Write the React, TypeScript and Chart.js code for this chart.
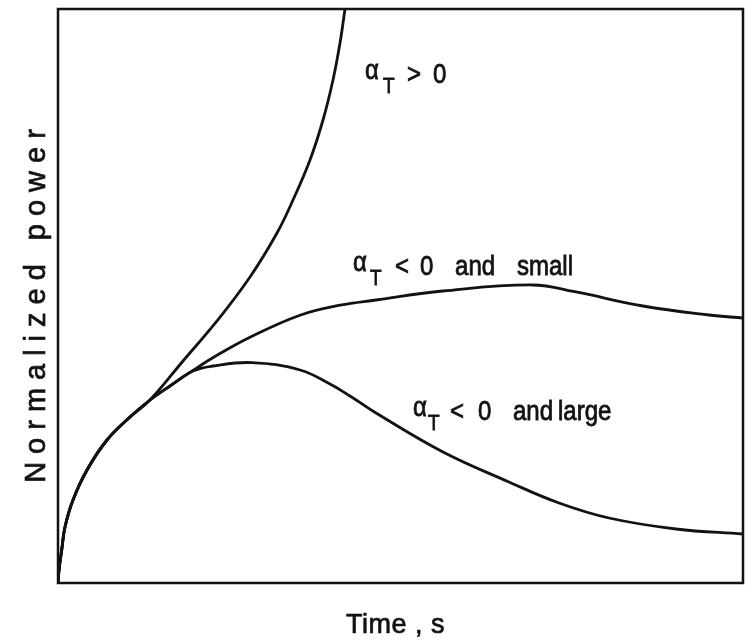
import React, { useEffect, useRef } from "react";
import { Chart, registerables } from "chart.js";

Chart.register(...registerables);

// Normalized power vs. time for three signs/magnitudes of the temperature coefficient.
// Time and power are in arbitrary units (0–100 on both axes).

// shared initial rise
const riseTime = [0, 0.146, 0.54, 1.022, 2.19, 4.234, 7.153, 10.511, 13.431];
const risePower = [0, 2.265, 5.749, 9.756, 14.46, 19.686, 24.913, 28.92, 31.882];

// α_T > 0 : power keeps growing
const positiveTime = [...riseTime, 18.248, 23.212, 28.029, 31.971, 34.307, 36.788, 38.686, 40.146, 41.168, 41.898];
const positivePower = [...risePower, 38.676, 45.645, 53.31, 60.976, 66.725, 73.693, 80.662, 87.631, 94.077, 100];

// α_T < 0 and small : power levels off
const smallTime = [...riseTime, 16.35, 19.708, 23.212, 28.029, 35.328, 41.168, 46.423, 56.204, 69.27, 75.62, 85.401, 95.036, 100];
const smallPower = [...risePower, 34.321, 37.038, 39.669, 42.822, 46.655, 48.397, 49.303, 50.871, 51.92, 50.697, 48.258, 46.69, 46.167];

// α_T < 0 and large : power peaks then falls
const largeTime = [...riseTime, 16.35, 19.708, 22.628, 28.3, 35.328, 39.708, 42.628, 46.423, 56.204, 65.839, 73.139, 80.438, 90.219, 100];
const largePower = [...risePower, 34.321, 36.934, 37.805, 38.4, 37.108, 34.669, 32.578, 29.617, 22.822, 17.596, 13.937, 11.324, 9.408, 8.537];

const INK = "#121212";
const FONT = "'Liberation Sans', Arial, sans-serif";

type Token = { text: string; dx: number; dy: number; size: number };
type CurveLabel = { at: [number, number]; tokens: Token[] };

const curveLabels: CurveLabel[] = [
  {
    at: [44.82, 87.11],
    tokens: [
      { text: "α", dx: 0, dy: -4, size: 24 },
      { text: "T", dx: 18, dy: 10, size: 19 },
      { text: ">", dx: 42, dy: 0, size: 24 },
      { text: "0", dx: 68, dy: 0, size: 24 },
    ],
  },
  {
    at: [43.07, 53.66],
    tokens: [
      { text: "α", dx: 0, dy: -4, size: 24 },
      { text: "T", dx: 17, dy: 10, size: 19 },
      { text: "<", dx: 42, dy: 0, size: 24 },
      { text: "0", dx: 67, dy: 0, size: 24 },
      { text: "and", dx: 102, dy: 0, size: 24 },
      { text: "small", dx: 164, dy: 0, size: 24 },
    ],
  },
  {
    at: [51.82, 28.4],
    tokens: [
      { text: "α", dx: 0, dy: -4, size: 24 },
      { text: "T", dx: 15, dy: 10, size: 19 },
      { text: "<", dx: 37, dy: 0, size: 24 },
      { text: "0", dx: 65, dy: 0, size: 24 },
      { text: "and", dx: 100, dy: 0, size: 24 },
      { text: "large", dx: 145, dy: 0, size: 24 },
    ],
  },
];

const xTitle = "Time , s";
const yTitle = "Normalized power";

const toPoints = (xs: number[], ys: number[]) => xs.map((x, i) => ({ x, y: ys[i] }));

// text drawn slightly taller than wide, with a hairline stroke for weight
function drawTallText(ctx: CanvasRenderingContext2D, text: string, x: number, y: number, size: number, stretch: number) {
  ctx.save();
  ctx.translate(x, y);
  ctx.scale(1, stretch);
  ctx.font = `${size}px ${FONT}`;
  ctx.fillText(text, 0, 0);
  ctx.lineWidth = 0.7;
  ctx.strokeText(text, 0, 0);
  ctx.restore();
}

const framePlugin = {
  id: "frameAndText",
  afterDraw(chart: any) {
    const { ctx, chartArea: a, scales } = chart;
    const xs = scales.x;
    const ys = scales.y;
    ctx.save();
    ctx.strokeStyle = INK;
    ctx.lineWidth = 2.5;
    ctx.strokeRect(a.left, a.top, a.right - a.left, a.bottom - a.top);

    ctx.fillStyle = INK;
    ctx.textAlign = "left";
    ctx.textBaseline = "alphabetic";
    for (const lab of curveLabels) {
      const px = xs.getPixelForValue(lab.at[0]);
      const py = ys.getPixelForValue(lab.at[1]);
      for (const t of lab.tokens) {
        drawTallText(ctx, t.text, px + t.dx, py + t.dy, t.size, 1.15);
      }
    }

    // axis titles
    ctx.textAlign = "center";
    (ctx as any).letterSpacing = "0.5px";
    drawTallText(ctx, xTitle, (a.left + a.right) / 2 - 5, a.bottom + 50, 27, 1.05);

    ctx.save();
    ctx.translate(a.left - 13, (a.top + a.bottom) / 2 + 6);
    ctx.rotate(-Math.PI / 2);
    (ctx as any).letterSpacing = "8px";
    ctx.font = `29px ${FONT}`;
    ctx.fillText(yTitle, 0, 0);
    ctx.lineWidth = 0.7;
    ctx.strokeText(yTitle, 0, 0);
    ctx.restore();

    (ctx as any).letterSpacing = "0px";
    ctx.restore();
  },
};

export default function App() {
  const ref = useRef<HTMLCanvasElement | null>(null);

  useEffect(() => {
    if (!ref.current) return;
    const line = (data: { x: number; y: number }[]) => ({
      data,
      borderColor: INK,
      borderWidth: 2.8,
      pointRadius: 0,
      fill: false,
      tension: 0.4,
    });
    const chart = new Chart(ref.current, {
      type: "line",
      data: {
        datasets: [
          line(toPoints(positiveTime, positivePower)),
          line(toPoints(smallTime, smallPower)),
          line(toPoints(largeTime, largePower)),
        ],
      },
      options: {
        responsive: false,
        animation: false,
        layout: { padding: { left: 58, top: 9, right: 9, bottom: 61 } },
        plugins: { legend: { display: false }, tooltip: { enabled: false } },
        scales: {
          x: { type: "linear", min: 0, max: 100, display: false },
          y: { type: "linear", min: 0, max: 100, display: false },
        },
      },
      plugins: [framePlugin],
    });
    return () => chart.destroy();
  }, []);

  return (
    <canvas
      ref={ref}
      width={752}
      height={644}
      style={{ position: "fixed", left: 0, top: 0, display: "block", background: "#fff" }}
    />
  );
}
